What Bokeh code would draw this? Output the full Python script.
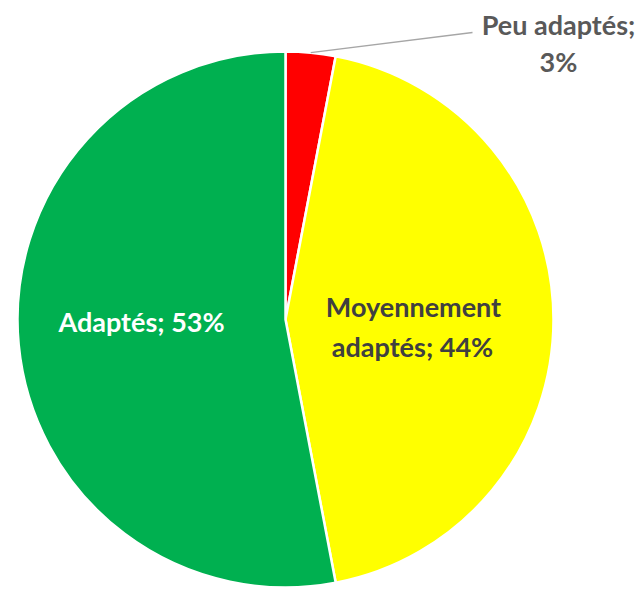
import math
from bokeh.plotting import figure
from bokeh.models import ColumnDataSource
from bokeh.core.properties import value
from bokeh.embed import file_html
from bokeh.resources import INLINE

categories = ["Peu adaptés", "Moyennement adaptés", "Adaptés"]
values = [3, 44, 53]
colors = ["#ff0000", "#ffff00", "#00b050"]

W, H = 641, 593
# helper: picture pixel -> data coords (data = figure pixels, y up)
def px(x, y):
    return x, H - y

cx, cy = px(285, 319)
R = 268

total = sum(values)
starts, ends = [], []
a = math.pi / 2
for v in values:
    starts.append(a)
    a -= 2 * math.pi * v / total
    ends.append(a)

p = figure(width=W, height=H, x_range=(0, W), y_range=(0, H),
           output_backend="svg", toolbar_location=None, min_border=0)
p.axis.visible = False
p.grid.visible = False
p.outline_line_color = None
p.background_fill_color = "white"

src = ColumnDataSource(dict(cat=categories, val=values, color=colors,
                            start=starts, end=ends))
p.wedge(x=cx, y=cy, radius=R, start_angle="start", end_angle="end",
        direction="clock", fill_color="color", line_color="white",
        line_width=2.5, source=src)

# leader line for small slice
mid = (starts[0] + ends[0]) / 2
lx0, ly0 = cx + R * math.cos(mid), cy + R * math.sin(mid)
lx1, ly1 = px(472, 32)
p.line([lx0, lx1], [ly0, ly1], line_color="#a6a6a6", line_width=1.3)

font = value("Lato")
fs = "27px"

def label(x, y, txt, color):
    X, Y = px(x, y)
    p.text(x=[X], y=[Y], text=[txt], text_font=font, text_font_size=fs,
           text_font_style="bold", text_color=color, text_align="center",
           text_baseline="middle")

label(558, 24, "Peu adaptés;", "#595959")
label(558, 61, f"{values[0]}%", "#595959")
label(413, 306, "Moyennement", "#404040")
label(412, 346, f"adaptés; {values[1]}%", "#404040")
label(141, 321, f"Adaptés; {values[2]}%", "#ffffff")

open("out.html", "w").write(file_html(p, INLINE))
